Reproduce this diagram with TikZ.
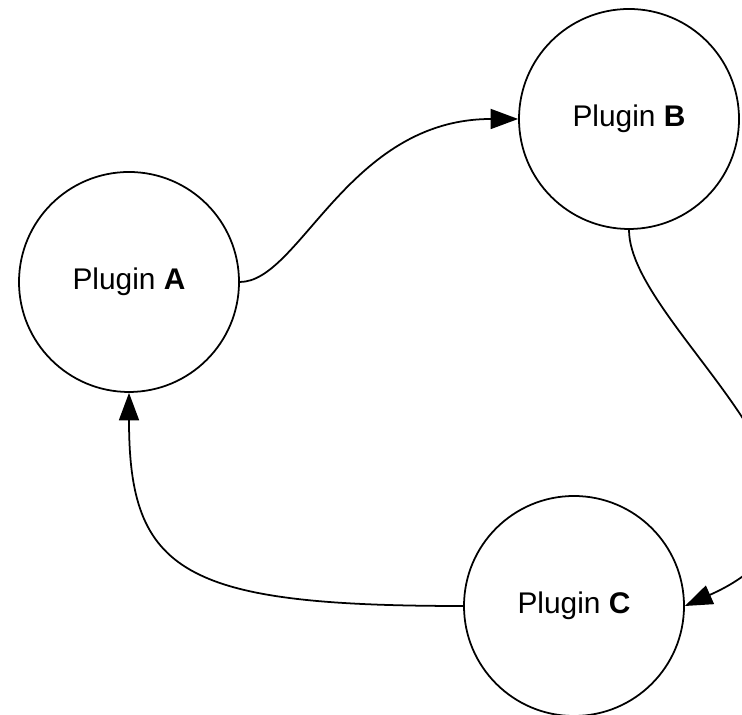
\documentclass[tikz,border=0pt]{standalone}
\usepackage{fontspec}
\setmainfont{Liberation Sans}
\usetikzlibrary{arrows.meta}

\begin{document}
\begin{tikzpicture}[plugin/.style={circle,draw,line width=1pt,minimum size=4.4cm,font=\fontsize{17}{20}\selectfont},
  flow/.style={line width=1pt,-{Triangle[length=5.5mm,width=4mm]}}]
\clip (0,0) rectangle (14.84,14.3);

\node[plugin] (A) at (2.58,8.66) {Plugin \textbf{A}};
\node[plugin] (B) at (12.58,11.92) {Plugin \textbf{B}};
\node[plugin] (C) at (11.48,2.18) {Plugin \textbf{C}};

\draw [flow] (A.east) .. controls +(1.2,0) and +(-3.4,0) .. (B.west);
\draw [flow] (B.south) .. controls +(0,-2) and +(24:4.8) .. (C.east);
\draw [flow] (C.west) .. controls +(-5.6,0) and +(0,-3.6) .. (A.south);
\end{tikzpicture}
\end{document}
